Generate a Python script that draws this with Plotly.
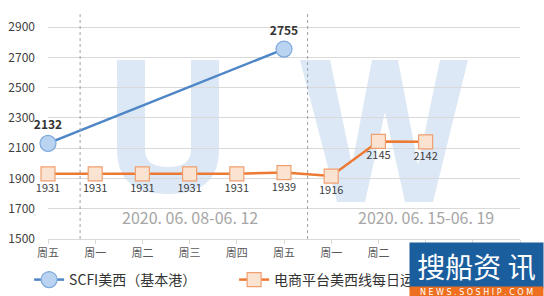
import plotly.graph_objects as go

day_labels = ["周五", "周一", "周二", "周三", "周四", "周五", "周一", "周二", "周三", "周四", "周五"]
scfi_values = [2132, None, None, None, None, 2755, None, None, None, None, None]
ecom_values = [1931, 1931, 1931, 1931, 1931, 1939, 1916, 2145, 2142, None, None]
y_ticks = [1500, 1700, 1900, 2100, 2300, 2500, 2700, 2900]
period_labels = ["2020. 06. 08-06. 12", "2020. 06. 15-06. 19"]
period_centers = [3, 8]
dividers = [0.68, 5.5]

xs = list(range(len(day_labels)))
CJK = "Noto Sans CJK SC"

# plot-area geometry (pixels) used only to place decorations
L, R, T, B = 48, 520, 12, 239


def px(x):
    return (x - L) / (R - L)


def py(y):
    return (B - y) / (B - T)


fig = go.Figure()

fig.add_trace(go.Scatter(
    x=xs, y=scfi_values, name="SCFI美西（基本港）", mode="lines+markers+text",
    connectgaps=True,
    line=dict(color="#4f86c6", width=2.5),
    marker=dict(symbol="circle", size=16, color="#b9d3f0", line=dict(color="#7ea9dc", width=1.2)),
    text=[str(v) if v is not None else "" for v in scfi_values],
    textposition="top center",
    textfont=dict(family=CJK, size=12, color="#333333", weight="bold"),
    cliponaxis=False,
))

fig.add_trace(go.Scatter(
    x=xs, y=ecom_values, name="电商平台美西线每日运价", mode="lines+markers+text",
    line=dict(color="#ec7a34", width=2.5),
    marker=dict(symbol="square", size=14, color="#fbe3d2", line=dict(color="#f0a070", width=1.2)),
    text=[str(v) if v is not None else "" for v in ecom_values],
    textposition="bottom center",
    textfont=dict(family=CJK, size=11, color="#404040"),
    cliponaxis=False,
))


def P(x, y):
    return f"{px(x):.4f},{py(y):.4f}"


u_path = (f"M {P(117,60)} L {P(145,60)} L {P(145,150)} Q {P(145,167)} {P(168,167)} "
          f"Q {P(191,167)} {P(191,150)} L {P(191,60)} L {P(219,60)} L {P(219,150)} "
          f"Q {P(219,194)} {P(168,194)} Q {P(117,194)} {P(117,150)} Z")
w_path = (f"M {P(300,60)} L {P(330,60)} L {P(352,165)} L {P(372,60)} L {P(398,60)} "
          f"L {P(418,165)} L {P(440,60)} L {P(468,60)} L {P(433,202)} L {P(405,202)} "
          f"L {P(385,112)} L {P(365,202)} L {P(337,202)} Z")

shapes = [
    dict(type="path", xref="paper", yref="paper", path=u_path, fillcolor="#dce8f5",
         line=dict(width=0), layer="below"),
    dict(type="path", xref="paper", yref="paper", path=w_path, fillcolor="#dce8f5",
         line=dict(width=0), layer="below"),
]
for d in dividers:
    shapes.append(dict(type="line", xref="x", yref="paper", x0=d, x1=d, y0=0, y1=1,
                       line=dict(color="#a0a0a0", width=1, dash="dot")))

annotations = []
for lbl, c in zip(period_labels, period_centers):
    annotations.append(dict(x=c, y=1645, xref="x", yref="y", text=lbl, showarrow=False,
                            font=dict(family=CJK, size=16, color="#a6a6a6")))
# logo (annotations with background boxes so it sits above the legend)
annotations.append(dict(x=px(409), y=py(242), xref="paper", yref="paper", xanchor="left", yanchor="top",
                        text="搜船资 讯", showarrow=False, width=133, height=45, bgcolor="#1b5e9e",
                        borderpad=0, align="center", valign="middle",
                        font=dict(family=CJK, size=28, color="white")))
annotations.append(dict(x=px(409), y=py(286), xref="paper", yref="paper", xanchor="left", yanchor="top",
                        text="N E W S . S O S H I P . C O M", showarrow=False, width=133, height=10,
                        bgcolor="#ee6f1f", borderpad=0, align="center", valign="middle",
                        font=dict(family="DejaVu Sans", size=8, color="white")))

fig.update_layout(
    width=544, height=296,
    margin=dict(l=L, r=544 - R, t=T, b=296 - B, autoexpand=False),
    paper_bgcolor="white", plot_bgcolor="rgba(0,0,0,0)",
    shapes=shapes, annotations=annotations,
    showlegend=True,
    legend=dict(orientation="h", x=-0.04, y=py(280), xanchor="left", yanchor="middle",
                font=dict(family=CJK, size=14, color="#333333"),
                entrywidth=160, traceorder="normal", bgcolor="rgba(0,0,0,0)"),
    xaxis=dict(range=[0, 10], tickmode="array", tickvals=xs, ticktext=day_labels,
               showgrid=False, zeroline=False, showline=True, linecolor="#d9d9d9",
               ticks="outside", ticklen=4, tickcolor="#d9d9d9",
               tickfont=dict(family=CJK, size=11, color="#595959")),
    yaxis=dict(range=[1500, 3000], tickmode="array", tickvals=y_ticks,
               showgrid=True, gridcolor="#d9d9d9", zeroline=False, showline=False,
               ticklabelstandoff=12,
               tickfont=dict(family=CJK, size=12, color="#404040"), ticks=""),
)

fig.write_html("out.html")
